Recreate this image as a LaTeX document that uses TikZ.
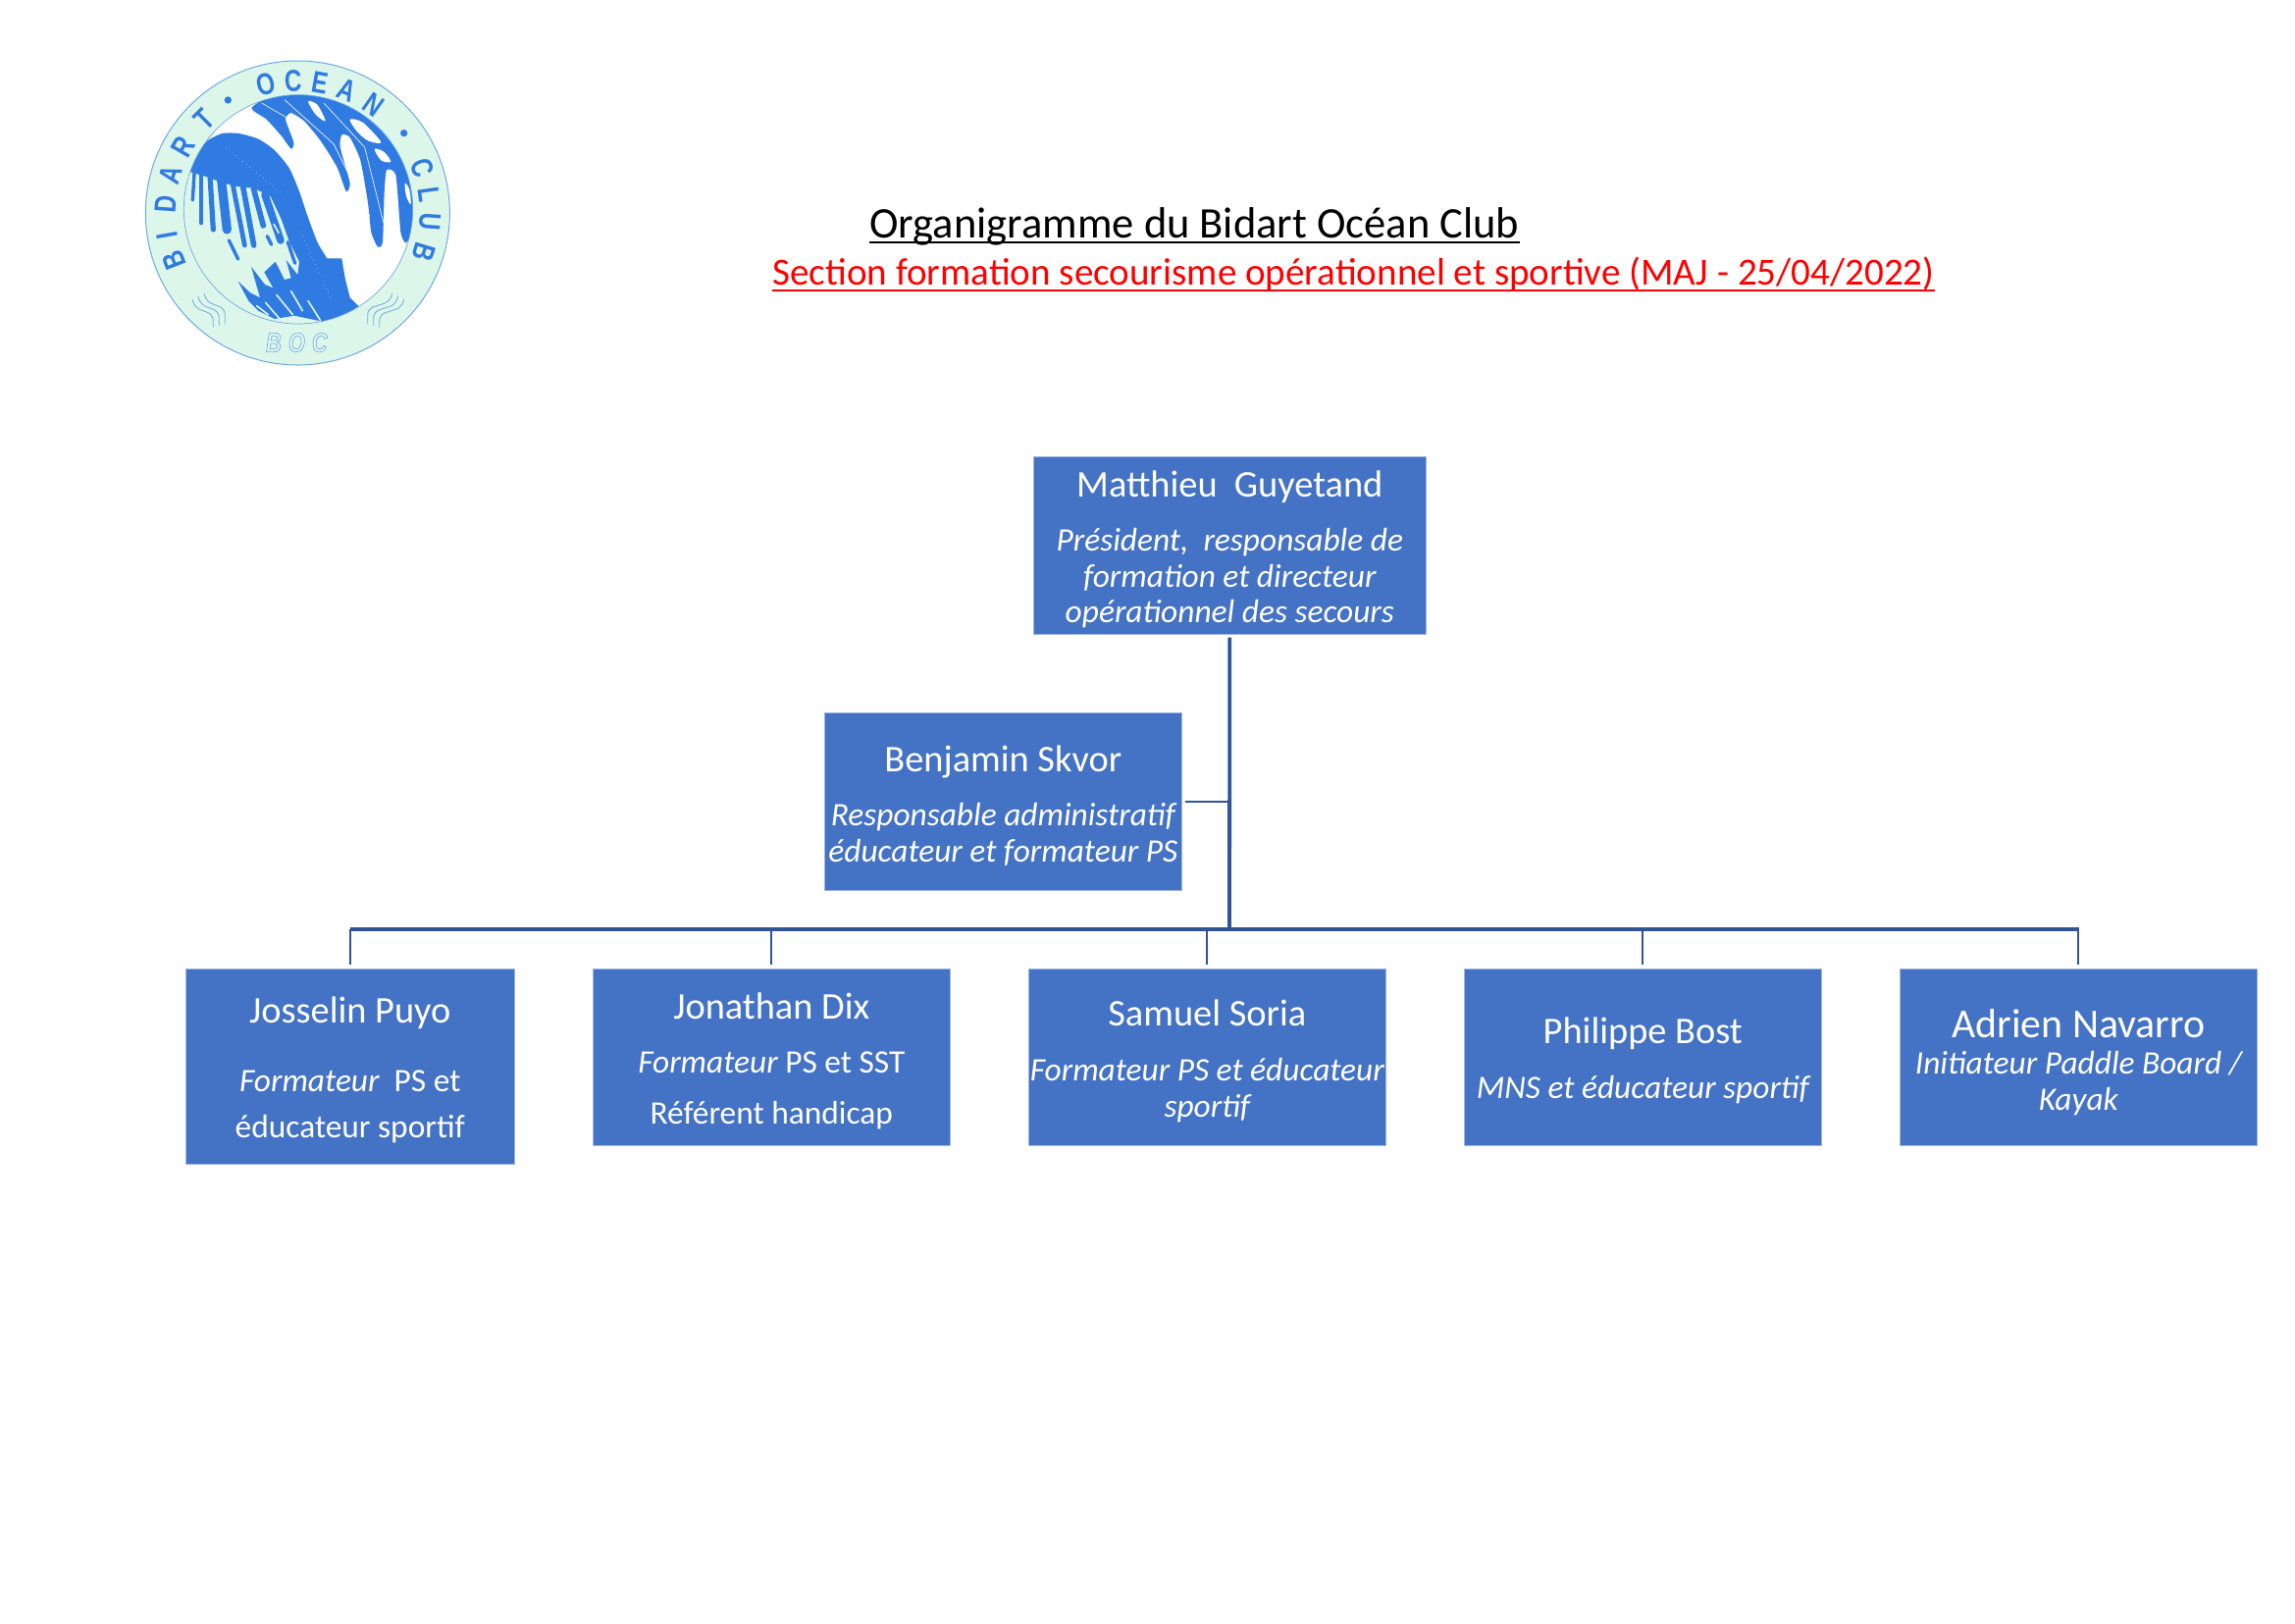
\documentclass[tikz,border=0pt]{standalone}
\usepackage{fontspec}
\setmainfont{Carlito}
\newfontfamily\logofont[FakeStretch=0.78]{Liberation Sans}
\usetikzlibrary{calc}
\definecolor{boxblue}{HTML}{4472C4}
\definecolor{boxedge}{HTML}{9DB6E2}
\definecolor{linkblue}{HTML}{2F5597}
\definecolor{logoblue}{HTML}{307BE2}
\definecolor{logomint}{HTML}{DDF6EA}
\definecolor{logoedge}{HTML}{6FA8E4}
\newcommand{\nm}{\fontsize{19.2}{18.3}\selectfont\upshape}
\newcommand{\rl}{\fontsize{16.7}{18.3}\selectfont\itshape}
\newcommand{\rp}{\fontsize{16.7}{18.3}\selectfont\upshape}
\newcommand{\lift}[1]{\rule{0pt}{#1}}
\tikzset{
 orgbox/.style={fill=boxblue,draw=boxedge,line width=0.3pt,text=white,inner sep=0pt,align=center,minimum width=#1,anchor=north west,font=\rl},
 bus/.style={draw=linkblue,line width=1.9pt},
 drop/.style={draw=linkblue,line width=1pt},
 trunk/.style={draw=linkblue,line width=1.9pt},
 logoletter/.style={text=logoblue,inner sep=0pt,font=\logofont\bfseries\fontsize{15.5}{15.5}\selectfont},
 squig/.style={draw=logoedge,line width=0.4pt,line cap=round,rounded corners=3pt},
}
\begin{document}
\begin{tikzpicture}[x=0.5pt,y=-0.5pt]
\useasboundingbox (0,0) rectangle (2339,1654);
% logo
\begin{scope}[shift={(130,50)},x=0.16667pt,y=-0.16667pt]
 \path[fill=logomint,draw=logoedge,line width=0.5pt] (520,501) circle[radius=465];
 \begin{scope}
  \clip (522,490) circle[radius=350];
  \fill[logomint] (100,100) rectangle (900,900);
  % white band
  \fill[white] (230,270) -- (400,130) -- (900,130) -- (900,600) -- (720,800) -- (660,780) -- (650,640) -- (600,640) -- (540,480) -- (430,290) -- (300,255) -- cycle;
  % upper right blue
  \fill[logoblue] plot[smooth cycle,tension=0.35] coordinates {(380,178) (425,215) (470,265) (500,305) (508,285) (483,215) (500,195) (540,220) (590,280) (640,360) (668,435) (680,410) (650,300) (655,262) (680,270) (712,340) (735,470) (745,560) (765,605) (780,590) (785,440) (792,370) (820,385) (835,560) (850,592) (866,570) (885,480) (900,300) (800,130) (500,120)};
  \draw[white,line width=0.3pt] (410,165) -- (530,235) -- (620,330);
  \draw[white,line width=0.3pt] (480,155) -- (630,290) -- (740,510);
  \draw[white,line width=0.3pt] (600,165) -- (725,300) -- (785,540);
  \fill[white] plot[smooth cycle,tension=0.5] coordinates {(552,160) (580,170) (605,220) (575,200)};
  \fill[white] plot[smooth cycle,tension=0.5] coordinates {(680,215) (720,225) (775,285) (735,280) (700,250)};
  \fill[white] plot[smooth cycle,tension=0.5] coordinates {(755,305) (785,315) (805,345) (775,340)};
  \fill[white] plot[smooth cycle,tension=0.5] coordinates {(848,410) (862,430) (866,475) (852,450)};
  % big wave
  \fill[logoblue] plot[smooth,tension=0.4] coordinates {(190,375) (215,315) (245,280) (290,258) (340,258) (400,275) (450,310) (495,365) (525,435) (550,510) (580,590) (610,640)} -- (655,640) -- (665,700) -- (680,760) -- (715,795) -- (620,838) -- (510,815) -- (450,825) -- (400,800) -- (370,770) -- (338,710) -- (375,745) -- (405,760) -- (378,665) -- (420,720) -- (445,730) -- (418,682) -- (452,650) -- (480,705) -- (500,700) -- (485,645) -- (520,690) -- (525,650) -- (495,590) -- (470,520) -- (437,450) -- (385,425) -- (330,420) -- (280,405) -- (240,390) -- cycle;
  \begin{scope}[draw=logoblue,line cap=round]
   \draw[line width=1.7pt] (204,380) -- (199,462);
   \draw[line width=2.1pt] (226,380) -- (226,532);
   \draw[line width=2.6pt] (252,385) -- (262,552);
   \draw[line width=4.6pt] (287,400) -- (304,552);
   \draw[line width=2.4pt] (322,415) -- (358,600);
   \draw[line width=2.8pt] (352,415) -- (386,600);
   \draw[line width=2.8pt] (385,425) -- (415,540);
   \draw[line width=3.8pt] (420,445) -- (468,585);
   \draw[line width=1.7pt] (310,585) -- (338,642);
   \draw[line width=1.7pt] (427,572) -- (440,598);
   \draw[line width=1.7pt] (490,590) -- (512,655);
   \draw[line width=1.7pt] (530,650) -- (540,600);
  \end{scope}
  \begin{scope}[draw=logomint,line cap=round,line width=0.8pt]
   \draw (395,785) -- (430,812);
   \draw (422,775) -- (465,825);
   \draw (456,752) -- (505,812);
   \draw (500,740) -- (535,800);
   \draw (552,770) -- (590,830);
   \draw (447,535) -- (462,562);
   \draw (320,490) -- (335,535);
  \end{scope}
  \begin{scope}[white,line width=0.25pt]
   \draw[dotted] (530,560) -- (620,760);
   \draw[dotted] (300,300) -- (470,440);
  \end{scope}
 \end{scope}
 \draw[logoedge,line width=0.35pt] (522,490) circle[radius=350];
 % ring lettering
 \foreach \ch/\ang [count=\n] in {B/201,I/190,D/176,A/163,R/150,T/135,O/104,C/92,E/80,A/68,N/55,C/20,L/8,U/-4,B/-17}{
  \node[logoletter,rotate=\ang-90] (ringletter\n) at ($(520,501)+(\ang:405 and -405)$) {\ch};
 }
 \fill[logoblue] (307,156) circle[radius=11] (845,257) circle[radius=11];
 % BOC
 \node[text=logoedge,inner sep=0pt,font=\logofont\bfseries\itshape\fontsize{14}{14}\selectfont] (boc) at (517,897) {\special{pdf:code 1 Tr 0.3 w}B\hspace{3.5pt}O\hspace{3.5pt}C\special{pdf:code 0 Tr}};
 % wave marks
 \foreach \d in {0,18,36}{
  \draw[squig] (198+\d,765-\d*0.5) -- (205+\d,790-\d*0.5) -- (262+\d,812-\d*0.5) -- (262+\d,850-\d*0.3);
  \draw[squig] (845-\d,765-\d*0.5) -- (838-\d,790-\d*0.5) -- (770-\d,812-\d*0.5) -- (770-\d,850-\d*0.3);
 }
\end{scope}
% titles
\node[anchor=base west,inner sep=0pt,font=\fontsize{22.25}{24}\selectfont] (title) at (886,242) {Organigramme du Bidart Océan Club};
\node[anchor=base west,inner sep=0pt,text=red,font=\fontsize{19.55}{20}\selectfont] (subtitle) at (787,290) {Section formation secourisme opérationnel et sportive (MAJ - 25/04/2022)};
\draw[line width=0.9pt] ([yshift=-2.5pt]title.base west) -- ([yshift=-2.5pt]title.base east);
\draw[red,line width=0.8pt] ([yshift=-3pt]subtitle.base west) -- ([yshift=-3pt]subtitle.base east);
% boxes
\node[orgbox=200pt,minimum height=90.5pt] (matthieu) at (1053,465) {\nm\lift{17.5pt}Matthieu\ \ Guyetand\\[9.3pt]Président,\ \ responsable de\\formation et directeur\\opérationnel des secours};
\node[orgbox=182pt,minimum height=90.5pt] (benjamin) at (840,726) {\nm\lift{17.5pt}Benjamin Skvor\\[9.3pt]Responsable administratif\\éducateur et formateur PS};
\node[orgbox=167.5pt,minimum height=99.5pt] (josselin) at (189,987) {\nm\lift{16.5pt}Josselin\ Puyo\\[17pt]Formateur\ \ \rp PS et\\[4.8pt]\rp éducateur sportif};
\node[orgbox=182pt,minimum height=90pt] (jonathan) at (604,987) {\nm\lift{17.5pt}Jonathan Dix\\[8.9pt]Formateur \rp PS et SST\\[7.8pt]\rp Référent handicap};
\node[orgbox=182pt,minimum height=90pt] (samuel) at (1048,987) {\nm\lift{17pt}Samuel Soria\\[10pt]Formateur PS et éducateur\\sportif};
\node[orgbox=182pt,minimum height=90pt] (philippe) at (1492,987) {\nm\lift{17pt}Philippe\ Bost\\[9.5pt]MNS et éducateur sportif};
\node[orgbox=182pt,minimum height=90pt] (adrien) at (1936,987) {\upshape\fontsize{20.9}{18.3}\selectfont\lift{20pt}Adrien Navarro\\[0.3pt]Initiateur Paddle Board /\\Kayak};
% connectors
\coordinate (busjoin) at (1253,947);
\coordinate (busleft) at (357,947);
\coordinate (busright) at (2119,947);
\draw[bus] (busleft) -- (busright);
\draw[trunk] ([yshift=-1.5pt]matthieu.south) -- (busjoin);
\draw[drop,line width=1.2pt] ([xshift=1.5pt]benjamin.east) -- (benjamin.east -| busjoin);
\foreach \who in {josselin,jonathan,samuel,philippe,adrien}{
 \draw[drop] (\who.north |- busjoin) -- ([yshift=2pt]\who.north);
}
\end{tikzpicture}
\end{document}
